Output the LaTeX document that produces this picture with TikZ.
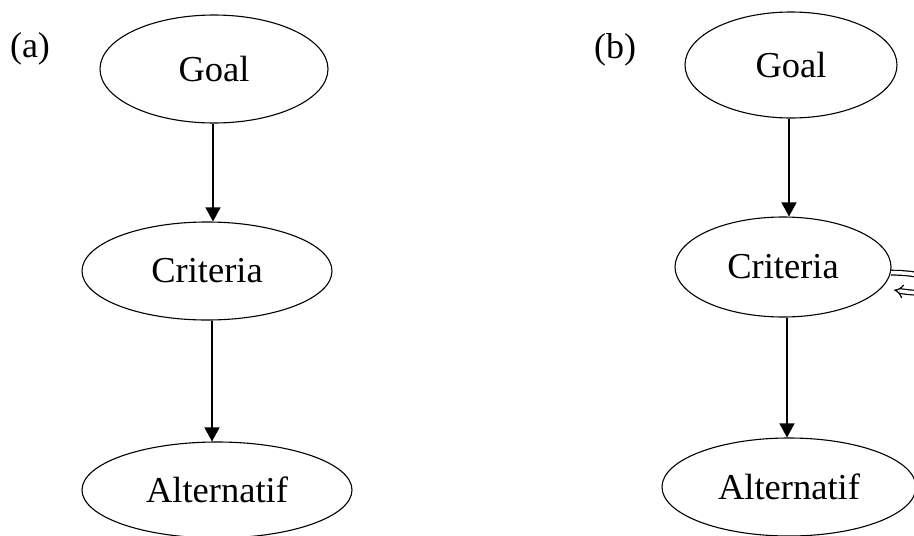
\documentclass[tikz,border=0pt]{standalone}
\usepackage{fontspec}
\setmainfont{Liberation Serif}
\usetikzlibrary{arrows.meta,positioning,shapes.geometric}
\tikzset{
  ell/.style={draw,ellipse,line width=1.1pt,inner sep=0pt,font=\fontsize{36.5}{40}\selectfont},
  tag/.style={font=\fontsize{36}{40}\selectfont,inner sep=0pt},
  ar/.style={-{Triangle[length=14pt,width=15pt]},line width=1.4pt},
  loopar/.style={double,double distance=3.5pt,line width=1.2pt,-{Implies[length=10pt]}},
}
\begin{document}
\begin{tikzpicture}[x=1pt,y=-1pt]
\useasboundingbox (0,0) rectangle (914,536);
% (a)
\node[tag] (la) at (30,49) {(a)};
\node[ell,minimum width=228pt,minimum height=108pt] (goala) at (214,69) {Goal};
\node[ell,minimum width=250pt,minimum height=98pt] (crita) at (207,271) {Criteria};
\node[ell,minimum width=270pt,minimum height=96pt] (alta) at (217,490) {Alternatif};
\draw[ar] (goala.south -| 213,0) -- (213,0 |- crita.north);
\draw[ar] (crita.south -| 212,0) -- (212,0 |- alta.north);
% (b)
\node[tag] (lb) at (615,50) {(b)};
\node[ell,minimum width=212pt,minimum height=106pt] (goalb) at (791,65) {Goal};
\node[ell,minimum width=216pt,minimum height=100pt] (critb) at (783,267) {Criteria};
\node[ell,minimum width=254pt,minimum height=98pt] (altb) at (789,487) {Alternatif};
\draw[ar] (goalb.south -| 789,0) -- (789,0 |- critb.north);
\draw[ar] (critb.south -| 787,0) -- (787,0 |- altb.north);
% self loop, cut by the page edge
\coordinate (ret) at (894,290);
\draw[loopar] (critb.-3) .. controls +(60,0) and +(60,10) .. (ret);
\end{tikzpicture}
\end{document}
